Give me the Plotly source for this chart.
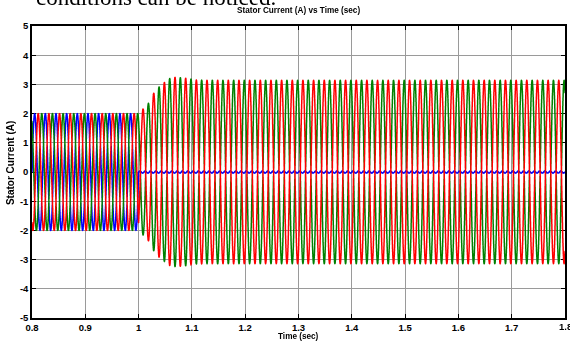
import numpy as np
import plotly.graph_objects as go

# ---- data ----
freq_hz = 50.0                 # supply frequency
pre_fault_amp = 2.0            # all three phases before t = 1 s
fault_time = 1.0               # phase "blue" opens
# peak amplitude of the two healthy phases after the fault (read off the peaks)
env_t = [1.000, 1.018, 1.028, 1.038, 1.048, 1.058, 1.068, 1.078, 1.088, 1.098, 1.108, 1.130, 1.800]
env_a = [2.00, 2.34, 2.69, 2.91, 3.06, 3.20, 3.24, 3.23, 3.21, 3.18, 3.15, 3.14, 3.14]
blue_after_ripple = 0.04       # residual ripple of opened phase
x_tick_vals = [0.8, 0.9, 1.0, 1.1, 1.2, 1.3, 1.4, 1.5, 1.6, 1.7, 1.8]
x_tick_text = ["0.8", "0.9", "1", "1.1", "1.2", "1.3", "1.4", "1.5", "1.6", "1.7", "1.8"]
y_tick_vals = [-5, -4, -3, -2, -1, 0, 1, 2, 3, 4, 5]
y_tick_text = ["-5", "-4", "-3", "-2", "-1", "0", "1", "2", "3", "4", "5"]

# ---- waveform ----
t = np.linspace(0.8, 1.8, 20001)
w = 2 * np.pi * freq_hz
amp = np.interp(t, env_t, env_a)
pre = t < fault_time
i_blue = np.where(pre, pre_fault_amp * np.sin(w * t), blue_after_ripple * np.sin(2 * w * t))
i_green = np.where(pre, pre_fault_amp * np.sin(w * t + 2 * np.pi / 3), amp * np.sin(w * t + 2 * np.pi / 3))
i_red = np.where(pre, pre_fault_amp * np.sin(w * t - 2 * np.pi / 3), -amp * np.sin(w * t + 2 * np.pi / 3))

fig = go.Figure()
for y, c in [(i_blue, "#0000ff"), (i_green, "#008000"), (i_red, "#ff0000")]:
    fig.add_trace(go.Scattergl(x=t, y=y, mode="lines", line=dict(color=c, width=1.5),
                               showlegend=False, hoverinfo="skip"))

sans = "Liberation Sans, Arial, sans-serif"
tick_font = dict(family=sans, size=9.5, color="black", weight="bold")
axis_common = dict(showline=True, linecolor="black", linewidth=1.5, mirror="ticks",
                   ticks="inside", ticklen=4, tickcolor="black",
                   showgrid=True, gridcolor="#9a9a9a", gridwidth=1, zeroline=False,
                   tickfont=tick_font)

x0, pw, y_bot, ph = 32, 535, 318, 292   # plot area in pixels (for text placement)

fig.update_layout(
    width=570, height=345,
    margin=dict(l=32, r=3, t=26, b=27),
    paper_bgcolor="white", plot_bgcolor="white",
    xaxis=dict(range=[0.8, 1.8], tickvals=x_tick_vals[:-1], ticktext=x_tick_text[:-1], **axis_common),
    yaxis=dict(range=[-5, 5], tickvals=y_tick_vals, ticktext=y_tick_text, **axis_common),
    annotations=[
        # last x tick label sits on the page edge and is clipped, as in the reference
        dict(text=x_tick_text[-1], xref="x", yref="paper", x=x_tick_vals[-1],
             y=(y_bot - 326) / ph, xanchor="center", yanchor="middle",
             showarrow=False, font=tick_font),
        dict(text="Stator Current (A) vs Time (sec)", xref="paper", yref="paper",
             x=(299 - x0) / pw, y=(y_bot - 10) / ph, xanchor="center", yanchor="middle",
             showarrow=False, font=dict(family=sans, size=8.2, color="black", weight="bold")),
        dict(text="Time (sec)", xref="paper", yref="paper",
             x=(300 - x0) / pw, y=(y_bot - 336) / ph, xanchor="center", yanchor="middle",
             showarrow=False, font=dict(family=sans, size=8.2, color="black", weight="bold")),
        dict(text="Stator Current (A)", xref="paper", yref="paper", textangle=-90,
             x=(10 - x0) / pw, y=(y_bot - 163) / ph, xanchor="center", yanchor="middle",
             showarrow=False, font=dict(family=sans, size=10, color="black", weight="bold")),
        dict(text="conditions can be noticed.", xref="paper", yref="paper",
             x=(34 - x0) / pw, y=(y_bot - 12) / ph, xanchor="left", yanchor="bottom",
             showarrow=False,
             font=dict(family="Liberation Serif, Times New Roman, serif", size=23, color="black")),
    ],
)

fig.write_html("out.html")
